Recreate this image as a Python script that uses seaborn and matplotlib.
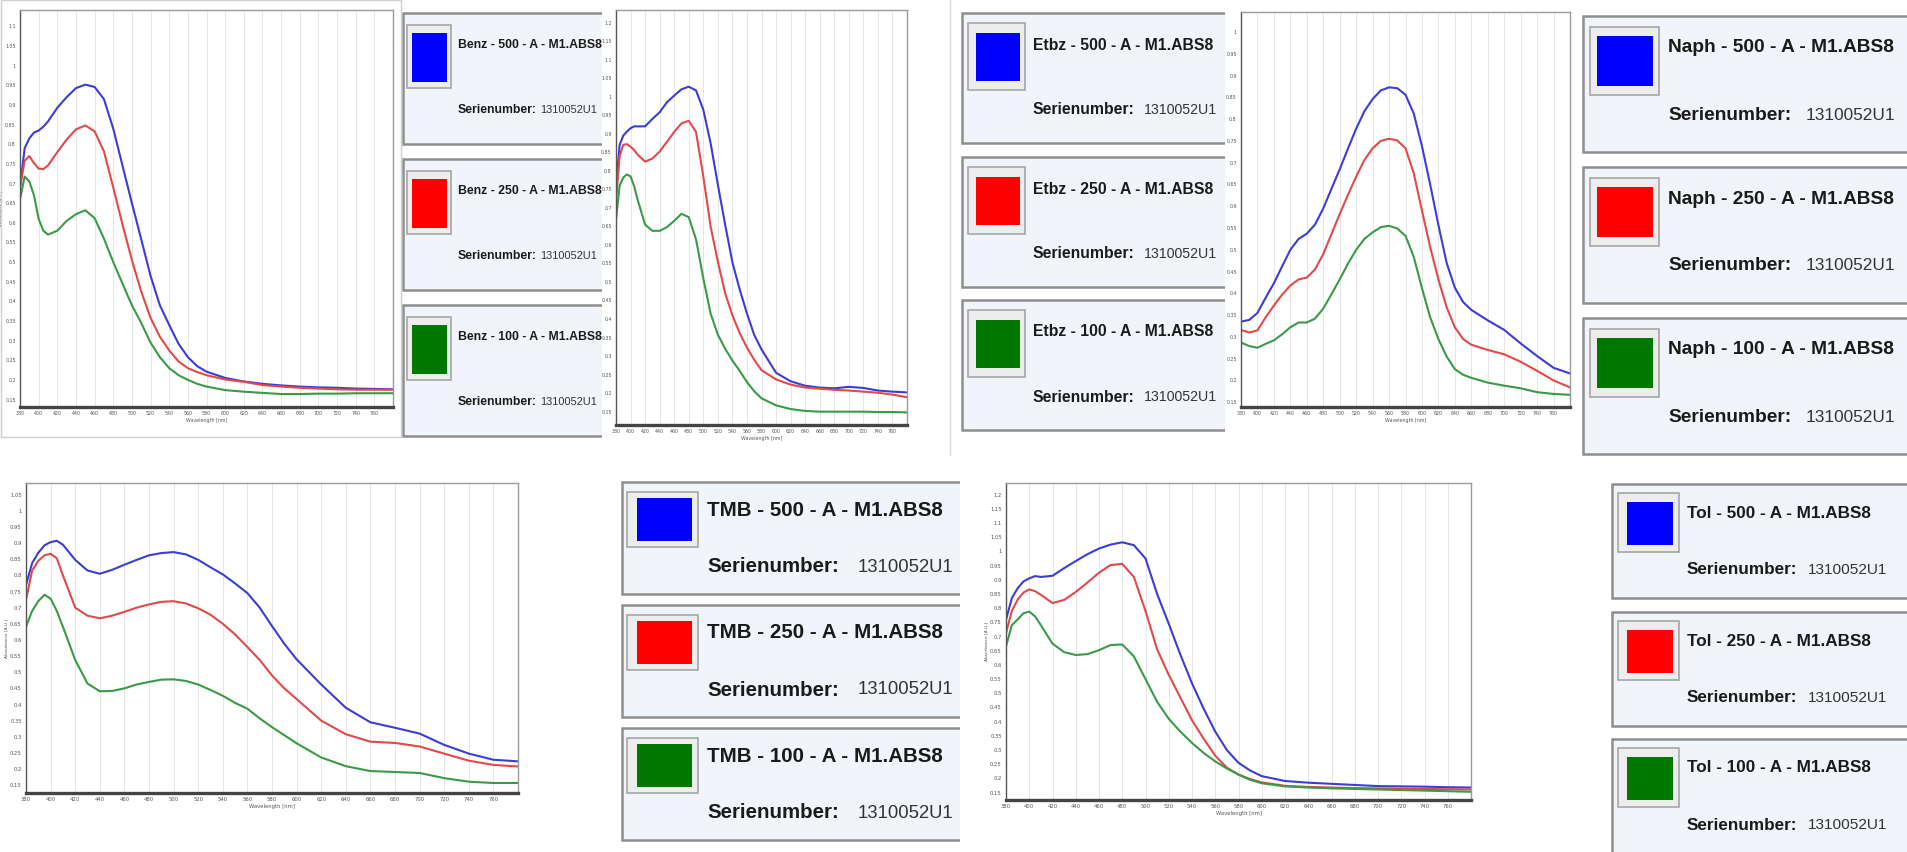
import matplotlib
matplotlib.use("Agg")
import matplotlib.pyplot as plt
from matplotlib.patches import Rectangle
import pandas as pd
import seaborn as sns

W, H = 1907, 852

# ---- data (wavelength in nm, absorbance in A.U.) ----
NM_A = [380, 385, 390, 395, 400, 405, 410, 420, 430, 440, 450, 460, 470, 480, 490, 500,
        510, 520, 530, 540, 550, 560, 570, 580, 600, 620, 640, 660, 680, 700, 720, 740, 760, 780]

BENZ_500 = [0.69, 0.79, 0.815, 0.83, 0.835, 0.845, 0.858, 0.893, 0.92, 0.943, 0.952, 0.946, 0.915,
            0.84, 0.745, 0.65, 0.558, 0.465, 0.39, 0.34, 0.292, 0.258, 0.235, 0.221, 0.205, 0.196,
            0.19, 0.186, 0.183, 0.181, 0.18, 0.178, 0.177, 0.176]
BENZ_250 = [0.69, 0.758, 0.77, 0.752, 0.738, 0.737, 0.746, 0.78, 0.812, 0.838, 0.848, 0.833, 0.782,
            0.69, 0.595, 0.505, 0.425, 0.358, 0.31, 0.275, 0.247, 0.23, 0.22, 0.212, 0.201, 0.195,
            0.187, 0.183, 0.18, 0.178, 0.176, 0.175, 0.175, 0.175]
BENZ_100 = [0.66, 0.718, 0.705, 0.67, 0.61, 0.58, 0.57, 0.58, 0.605, 0.622, 0.632, 0.612, 0.56,
            0.5, 0.445, 0.39, 0.345, 0.295, 0.258, 0.23, 0.212, 0.2, 0.19, 0.183, 0.174, 0.17,
            0.167, 0.164, 0.164, 0.165, 0.165, 0.166, 0.166, 0.166]

ETBZ_500 = [0.757, 0.87, 0.895, 0.906, 0.915, 0.92, 0.92, 0.92, 0.94, 0.958, 0.985, 1.003, 1.02,
            1.027, 1.017, 0.965, 0.875, 0.763, 0.655, 0.553, 0.48, 0.415, 0.357, 0.318, 0.255,
            0.232, 0.22, 0.215, 0.213, 0.217, 0.214, 0.207, 0.204, 0.202]
ETBZ_250 = [0.72, 0.84, 0.87, 0.872, 0.865, 0.856, 0.843, 0.825, 0.833, 0.852, 0.878, 0.905, 0.928,
            0.935, 0.905, 0.785, 0.65, 0.555, 0.47, 0.41, 0.362, 0.323, 0.29, 0.262, 0.237,
            0.223, 0.215, 0.212, 0.209, 0.207, 0.204, 0.201, 0.196, 0.189]
ETBZ_100 = [0.668, 0.76, 0.782, 0.79, 0.785, 0.758, 0.72, 0.655, 0.638, 0.638, 0.648, 0.665, 0.684,
            0.675, 0.615, 0.51, 0.415, 0.358, 0.32, 0.288, 0.26, 0.23, 0.205, 0.186, 0.167,
            0.157, 0.152, 0.15, 0.15, 0.15, 0.15, 0.149, 0.149, 0.148]

NM_N = [380, 390, 400, 410, 420, 430, 440, 450, 460, 470, 480, 490, 500, 510, 520, 530, 540, 550,
        560, 570, 580, 590, 600, 610, 620, 630, 640, 650, 660, 680, 700, 720, 740, 760, 780]

NAPH_500 = [0.335, 0.339, 0.355, 0.39, 0.423, 0.462, 0.5, 0.525, 0.537, 0.558, 0.595, 0.64, 0.685,
            0.732, 0.778, 0.818, 0.846, 0.866, 0.873, 0.871, 0.856, 0.813, 0.738, 0.65, 0.557,
            0.47, 0.413, 0.38, 0.362, 0.338, 0.316, 0.285, 0.256, 0.229, 0.216]
NAPH_250 = [0.316, 0.31, 0.315, 0.345, 0.372, 0.397, 0.418, 0.432, 0.436, 0.455, 0.49, 0.536, 0.582,
            0.626, 0.668, 0.706, 0.733, 0.75, 0.755, 0.751, 0.733, 0.676, 0.59, 0.506, 0.432,
            0.368, 0.322, 0.295, 0.282, 0.27, 0.26, 0.243, 0.222, 0.2, 0.184]
NAPH_100 = [0.287, 0.279, 0.275, 0.284, 0.292, 0.306, 0.322, 0.333, 0.333, 0.342, 0.365, 0.398, 0.432,
            0.468, 0.5, 0.525, 0.54, 0.552, 0.555, 0.549, 0.532, 0.484, 0.412, 0.345, 0.295,
            0.255, 0.226, 0.213, 0.206, 0.195, 0.188, 0.182, 0.173, 0.169, 0.167]

NM_B = [380, 385, 390, 395, 400, 405, 410, 420, 430, 440, 450, 460, 470, 480, 490, 500, 510, 520,
        530, 540, 550, 560, 570, 580, 590, 600, 620, 640, 660, 680, 700, 720, 740, 760, 780]

TMB_500 = [0.77, 0.838, 0.87, 0.893, 0.903, 0.907, 0.895, 0.848, 0.815, 0.805, 0.817, 0.833, 0.848,
           0.862, 0.869, 0.872, 0.865, 0.848, 0.825, 0.803, 0.775, 0.745, 0.7, 0.643, 0.588, 0.54,
           0.462, 0.39, 0.345, 0.328, 0.31, 0.275, 0.248, 0.229, 0.224]
TMB_250 = [0.724, 0.815, 0.845, 0.862, 0.867, 0.853, 0.8, 0.7, 0.675, 0.667, 0.675, 0.687, 0.7,
           0.71, 0.718, 0.72, 0.713, 0.698, 0.678, 0.65, 0.617, 0.578, 0.538, 0.49, 0.45, 0.417,
           0.35, 0.308, 0.285, 0.281, 0.27, 0.248, 0.226, 0.213, 0.208]
TMB_100 = [0.641, 0.69, 0.72, 0.74, 0.728, 0.69, 0.641, 0.538, 0.465, 0.441, 0.442, 0.45, 0.462,
           0.47, 0.477, 0.478, 0.473, 0.462, 0.445, 0.427, 0.405, 0.387, 0.357, 0.33, 0.305, 0.28,
           0.236, 0.209, 0.194, 0.191, 0.188, 0.172, 0.161, 0.157, 0.157]

TOL_500 = [0.759, 0.835, 0.87, 0.894, 0.905, 0.913, 0.91, 0.914, 0.941, 0.966, 0.99, 1.01, 1.024,
           1.032, 1.022, 0.975, 0.85, 0.745, 0.636, 0.535, 0.446, 0.365, 0.3, 0.255, 0.228, 0.208,
           0.191, 0.185, 0.181, 0.177, 0.173, 0.172, 0.171, 0.169, 0.168]
TOL_250 = [0.712, 0.79, 0.83, 0.855, 0.866, 0.86, 0.847, 0.818, 0.829, 0.857, 0.89, 0.925, 0.952,
           0.956, 0.91, 0.79, 0.655, 0.565, 0.485, 0.405, 0.34, 0.28, 0.238, 0.213, 0.198, 0.186,
           0.174, 0.17, 0.168, 0.166, 0.165, 0.164, 0.163, 0.162, 0.161]
TOL_100 = [0.665, 0.74, 0.76, 0.782, 0.788, 0.771, 0.74, 0.675, 0.645, 0.635, 0.638, 0.652, 0.67,
           0.672, 0.63, 0.55, 0.47, 0.41, 0.365, 0.325, 0.29, 0.26, 0.235, 0.214, 0.195, 0.183,
           0.172, 0.168, 0.165, 0.163, 0.161, 0.159, 0.157, 0.155, 0.153]

CONCENTRATIONS = ["500", "250", "100"]
X_TICKS = [380, 400, 420, 440, 460, 480, 500, 520, 540, 560, 580, 600, 620, 640, 660, 680, 700,
           720, 740, 760]
SERIAL = "1310052U1"

LINE_COLORS = {"500": "#3c3cd8", "250": "#e04a4a", "100": "#3a9a48"}
SWATCH_COLORS = {"500": "#0000ff", "250": "#ff0000", "100": "#007800"}

sns.set_theme(style="white")
plt.rcParams["font.family"] = ["DejaVu Sans"]
LEG_FONT = ["Liberation Sans", "DejaVu Sans"]

fig = plt.figure(figsize=(W / 100, H / 100), dpi=100)
fig.patch.set_facecolor("white")


def ax_at(x0, y0, x1, y1):
    return fig.add_axes([x0 / W, 1 - y1 / H, (x1 - x0) / W, (y1 - y0) / H])


def spectrum(box, nm, curves, ylim, ytop, fs=3.4):
    ax = ax_at(*box)
    df = pd.concat([pd.DataFrame({"nm": nm, "abs": v, "conc": c})
                    for c, v in zip(CONCENTRATIONS, curves)])
    sns.lineplot(data=df, x="nm", y="abs", hue="conc", palette=LINE_COLORS,
                 legend=False, sort=False, linewidth=1.5, ax=ax)
    ax.set_xlim(380, 780)
    ax.set_ylim(*ylim)
    yt = [round(0.15 + 0.05 * i, 2) for i in range(int(round((ytop - 0.15) / 0.05)) + 1)]
    ax.set_yticks(yt)
    ax.set_yticklabels([f"{v:g}" for v in yt], fontsize=fs, color="#555555")
    ax.set_yticks(yt[1::2], minor=True)
    ax.set_xticks(X_TICKS)
    ax.set_xticklabels([str(v) for v in X_TICKS], fontsize=fs, color="#555555")
    ax.tick_params(which="both", length=0, pad=3)
    ax.grid(False)
    ax.grid(True, axis="x", which="major", color="#e6e6e6", lw=0.7)
    ax.grid(True, axis="y", which="minor", color="#e2e2e2", lw=0.7)
    ax.set_xlabel("Wavelength [nm]", fontsize=fs, color="#555555", labelpad=1)
    ax.set_ylabel("Absorbance [A.U.]", fontsize=fs - 0.6, color="#555555", labelpad=1)
    ax.set_facecolor("white")
    for s in ("top", "right"):
        ax.spines[s].set_color("#9a9a9a")
        ax.spines[s].set_linewidth(1.0)
    ax.spines["left"].set_color("#555555")
    ax.spines["left"].set_linewidth(1.0)
    ax.spines["bottom"].set_color("#444444")
    ax.spines["bottom"].set_linewidth(2.4)
    return ax


def legend_panel(name, clip, tops, height, left, frame, color, tx, ty, sy, nx, fs):
    x0, y0, x1, y1 = clip
    ax = ax_at(x0, y0, x1, y1)
    ax.set_xlim(x0, x1)
    ax.set_ylim(y1, y0)
    ax.axis("off")
    for t, c in zip(tops, CONCENTRATIONS):
        ax.add_patch(Rectangle((left, t), 700, height, facecolor="#f1f5fb",
                               edgecolor="#8e8e8e", lw=1.8))
        ax.add_patch(Rectangle((frame[0], t + frame[2]), frame[1] - frame[0], frame[3] - frame[2],
                               facecolor="#ededed", edgecolor="#a6a6a6", lw=1.2))
        ax.add_patch(Rectangle((color[0], t + color[2]), color[1] - color[0], color[3] - color[2],
                               facecolor=SWATCH_COLORS[c], edgecolor="none"))
        ax.text(tx, t + ty, f"{name} - {c} - A - M1.ABS8", fontsize=fs, fontweight="bold",
                family=LEG_FONT, color="#1a1a1a", va="center", ha="left")
        ax.text(tx, t + sy, "Serienumber:", fontsize=fs, fontweight="bold",
                family=LEG_FONT, color="#1a1a1a", va="center", ha="left")
        ax.text(nx, t + sy, SERIAL, fontsize=fs * 0.9, family=LEG_FONT,
                color="#333333", va="center", ha="left")
    return ax


# window outlines of the pasted screenshots
fig.patches.append(Rectangle((0.5 / W, 1 - 437 / H), 400 / W, 437 / H, transform=fig.transFigure,
                             fill=False, edgecolor="#cfcfcf", lw=1.0))
fig.lines.append(plt.Line2D([950 / W, 950 / W], [1 - 455 / H, 1], transform=fig.transFigure,
                            color="#d8d8d8", lw=1.0))

spectrum((20, 10, 393, 407), NM_A, [BENZ_500, BENZ_250, BENZ_100], (0.131, 1.142), 1.1)
spectrum((616, 10, 907, 425), NM_A, [ETBZ_500, ETBZ_250, ETBZ_100], (0.114, 1.234), 1.2)
spectrum((1241, 12, 1570, 407), NM_N, [NAPH_500, NAPH_250, NAPH_100], (0.139, 1.046), 1.0)
spectrum((26, 483, 518, 793), NM_B, [TMB_500, TMB_250, TMB_100], (0.126, 1.086), 1.05, fs=3.8)
spectrum((1006, 483, 1471, 800), NM_B, [TOL_500, TOL_250, TOL_100], (0.124, 1.241), 1.2, fs=3.8)

legend_panel("Benz", (401, 0, 602, 445), [13, 159, 305], 131, 403, (407, 451, 12, 75),
             (412, 447, 20, 69), 458, 32, 97, 540, 8.8)
legend_panel("Etbz", (960, 0, 1225, 445), [13, 157, 300], 130, 962, (968, 1025, 10, 77),
             (976, 1020, 20, 68), 1033, 32, 97, 1144, 11.3)
legend_panel("Naph", (1581, 0, 1907, 460), [16, 167, 318], 136, 1583, (1590, 1659, 11, 79),
             (1597, 1653, 20, 70), 1668, 32, 99, 1806, 13.8)
legend_panel("TMB", (620, 470, 960, 852), [482, 605, 728], 112, 622, (627, 698, 10, 65),
             (637, 692, 16, 59), 707, 28, 85, 858, 14.8)
legend_panel("Tol", (1610, 470, 1907, 852), [484, 612, 739], 114, 1612, (1618, 1679, 9, 68),
             (1627, 1673, 18, 61), 1687, 29, 86, 1808, 12.3)

fig.savefig("out.png", dpi=100, facecolor="white")
